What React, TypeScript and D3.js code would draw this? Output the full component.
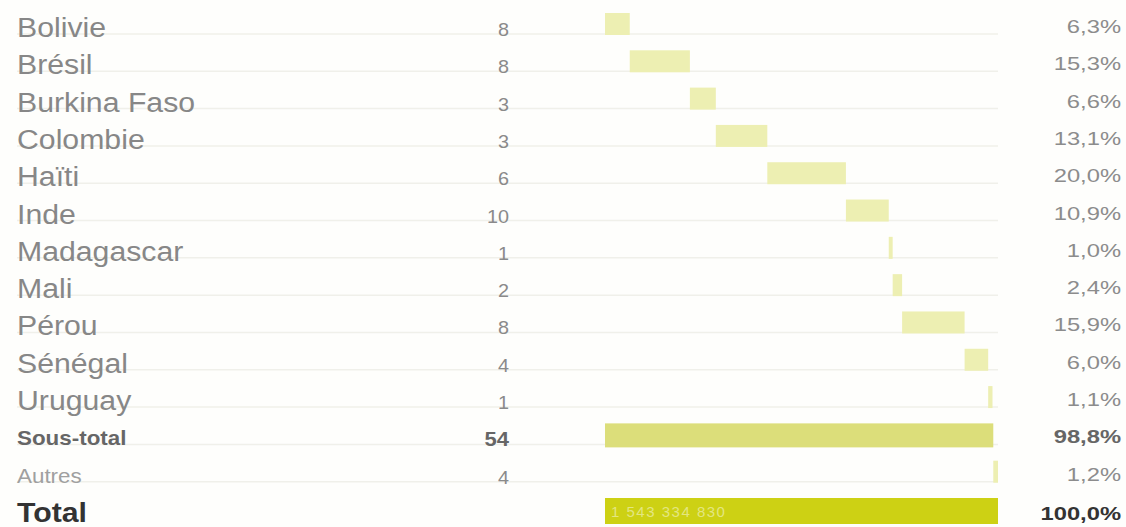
import * as d3 from "d3";
import { useEffect, useRef } from "react";

const W = 1126;
const H = 527;

// Country rows (waterfall steps)
const countries = [
  "Bolivie",
  "Brésil",
  "Burkina Faso",
  "Colombie",
  "Haïti",
  "Inde",
  "Madagascar",
  "Mali",
  "Pérou",
  "Sénégal",
  "Uruguay",
];
const counts = [8, 8, 3, 3, 6, 10, 1, 2, 8, 4, 1];
const shares = [6.3, 15.3, 6.6, 13.1, 20.0, 10.9, 1.0, 2.4, 15.9, 6.0, 1.1];

// Summary rows
const subtotalLabel = "Sous-total";
const subtotalCount = 54;
const subtotalShare = 98.8;
const otherLabel = "Autres";
const otherCount = 4;
const otherShare = 1.2;
const totalLabel = "Total";
const totalShare = 100.0;
const totalAmount = "1 543 334 830";

const fmtPct = (v: number) => d3.format(".1f")(v).replace(".", ",") + "%";

type Row = {
  label: string;
  count: number | null;
  start: number;
  share: number;
  kind: "country" | "sub" | "other" | "total";
};

const App = () => {
  const svgRef = useRef<SVGSVGElement>(null);

  useEffect(() => {
    const svgEl = svgRef.current;
    if (!svgEl) return;
    const svg = d3.select(svgEl);
    svg.selectAll("*").remove();

    const cum = Array.from(d3.cumsum(shares));
    const rows: Row[] = countries.map((c, i) => ({
      label: c,
      count: counts[i],
      start: i === 0 ? 0 : cum[i - 1],
      share: shares[i],
      kind: "country",
    }));
    rows.push({ label: subtotalLabel, count: subtotalCount, start: 0, share: subtotalShare, kind: "sub" });
    rows.push({ label: otherLabel, count: otherCount, start: subtotalShare, share: otherShare, kind: "other" });
    rows.push({ label: totalLabel, count: null, start: 0, share: totalShare, kind: "total" });

    const x = d3.scaleLinear().domain([0, 100]).range([605, 998]);
    const y = d3
      .scalePoint<string>()
      .domain(rows.map((r) => r.label))
      .range([28, 513]);

    const font = "Liberation Sans, Arial, Helvetica, sans-serif";

    svg.append("rect").attr("width", W).attr("height", H).attr("fill", "#fefefc");

    // row separators
    svg
      .append("g")
      .selectAll("line")
      .data(rows.slice(0, -1))
      .join("line")
      .attr("x1", 17)
      .attr("x2", x(100))
      .attr("y1", (d) => y(d.label)! + 6)
      .attr("y2", (d) => y(d.label)! + 6)
      .attr("stroke", "#f0f0ea")
      .attr("stroke-width", 1.5);

    const barFill = (k: Row["kind"]) =>
      k === "total" ? "#cdd114" : k === "sub" ? "#dcde7a" : "#edefb2";

    svg
      .append("g")
      .selectAll("rect")
      .data(rows)
      .join("rect")
      .attr("x", (d) => x(d.start))
      .attr("width", (d) => Math.max(2, x(d.start + d.share) - x(d.start)))
      .attr("y", (d) => y(d.label)! - 15)
      .attr("height", (d) => (d.kind === "total" ? 26 : d.kind === "sub" ? 24 : 22))
      .attr("fill", (d) => barFill(d.kind));

    svg
      .append("text")
      .attr("x", x(0) + 6)
      .attr("y", y(totalLabel)! + 4)
      .attr("font-family", font)
      .attr("font-size", 15)
      .attr("fill", "#e3e680")
      .attr("letter-spacing", 1.5)
      .text(totalAmount);

    // labels
    svg
      .append("g")
      .selectAll("text")
      .data(rows)
      .join("text")
      .attr("transform", (d) => `translate(17,${y(d.label)! + (d.kind === "sub" || d.kind === "other" ? 7 : 9)}) scale(1.12,1)`)
      .attr("font-family", font)
      .attr("font-size", (d) => (d.kind === "country" || d.kind === "total" ? 27 : 20))
      .attr("font-weight", (d) => (d.kind === "total" ? 700 : d.kind === "sub" ? 600 : 400))
      .attr("fill", (d) =>
        d.kind === "total" ? "#333" : d.kind === "sub" ? "#666" : d.kind === "other" ? "#a0a0a0" : "#878787"
      )
      .text((d) => d.label);

    // counts
    svg
      .append("g")
      .selectAll("text")
      .data(rows.filter((r) => r.count !== null))
      .join("text")
      .attr("transform", (d) => `translate(509,${y(d.label)! + 8}) scale(1.1,1)`)
      .attr("text-anchor", "end")
      .attr("font-family", font)
      .attr("font-size", (d) => (d.kind === "sub" ? 20 : 18))
      .attr("font-weight", (d) => (d.kind === "sub" ? 600 : 400))
      .attr("fill", (d) => (d.kind === "sub" ? "#666" : "#8a8a8a"))
      .text((d) => String(d.count));

    // percentages
    svg
      .append("g")
      .selectAll("text")
      .data(rows)
      .join("text")
      .attr("transform", (d) => `translate(1121,${y(d.label)! + 5 + (d.kind === "total" ? 2 : 0)}) scale(1.25,1)`)
      .attr("text-anchor", "end")
      .attr("font-family", font)
      .attr("font-size", 19)
      .attr("font-weight", (d) => (d.kind === "total" ? 700 : d.kind === "sub" ? 600 : 400))
      .attr("fill", (d) => (d.kind === "total" ? "#333" : d.kind === "sub" ? "#666" : "#8c8c8c"))
      .text((d) => fmtPct(d.share));
  }, []);

  return (
    <svg
      ref={svgRef}
      width={W}
      height={H}
      style={{ position: "absolute", left: 0, top: 0, display: "block" }}
    />
  );
};

export default App;
